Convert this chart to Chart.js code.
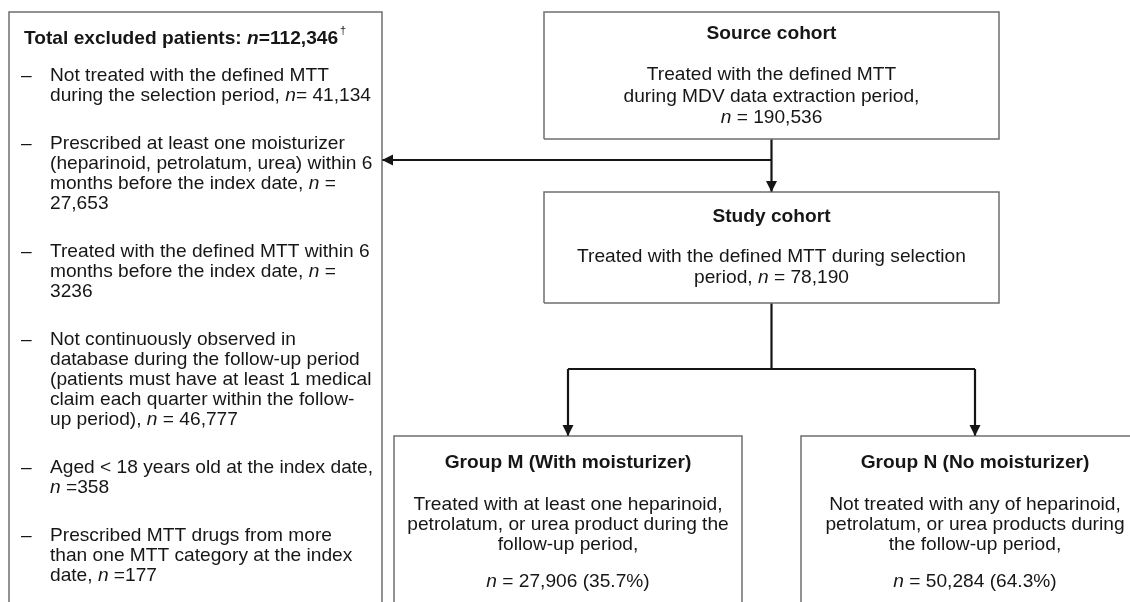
<!DOCTYPE html>
<html>
<head>
<meta charset="utf-8">
<script src="https://cdn.jsdelivr.net/npm/chart.js@4.4.1/dist/chart.umd.min.js"></script>
<style>
  html, body { margin: 0; padding: 0; background: #fff; }
  #wrap { width: 1130px; height: 602px; position: relative; }
</style>
</head>
<body>
<div id="wrap"><canvas id="flow"></canvas></div>
<script>
// ---- values ----
var totalExcluded = 112346;
var exclusionCounts = [41134, 27653, 3236, 46777, 358, 177];
var exclusionText = [
    ["Not treated with the defined MTT", "during the selection period, *n*= {n}"],
    ["Prescribed at least one moisturizer", "(heparinoid, petrolatum, urea) within 6", "months before the index date, *n* =", "{n}"],
    ["Treated with the defined MTT within 6", "months before the index date, *n* =", "{n}"],
    ["Not continuously observed in", "database during the follow-up period", "(patients must have at least 1 medical", "claim each quarter within the follow-", "up period), *n* = {n}"],
    ["Aged < 18 years old at the index date,", "*n* ={n}"],
    ["Prescribed MTT drugs from more", "than one MTT category at the index", "date, *n* ={n}"]
];
var sourceN = 190536;
var studyN = 78190;
var groupNames = ["Group M (With moisturizer)", "Group N (No moisturizer)"];
var groupCounts = [27906, 50284];
var groupShares = [35.7, 64.3];
var groupText = [
    ["Treated with at least one heparinoid,", "petrolatum, or urea product during the", "follow-up period,"],
    ["Not treated with any of heparinoid,", "petrolatum, or urea products during", "the follow-up period,"]
];

// ---- layout (chart units, same as pixels: x 0..1130, y 0..602 top-down) ----
var boxes = {
    excluded: { x0: 9, x1: 382, y0: 12, y1: 650 },
    source: { x0: 544, x1: 999, y0: 12, y1: 139 },
    study: { x0: 544, x1: 999, y0: 192, y1: 303 },
    groupM: { x0: 394, x1: 742, y0: 436, y1: 650 },
    groupN: { x0: 801, x1: 1149, y0: 436, y1: 650 }
};
var branchY = 160;
var splitY = 369;

var FS = 18.5;
var SX = 1.035;
var FAMILY = '"Liberation Sans", Arial, Helvetica, sans-serif';
var TEXT_COLOR = '#161616';

function fmt(n) {
    return n >= 10000 ? String(n).replace(/\B(?=(\d{3})+(?!\d))/g, ',') : String(n);
}
function mid(b) { return (b.x0 + b.x1) / 2; }
function rect(b) {
    return [{x: b.x0, y: b.y1}, {x: b.x0, y: b.y0}, {x: b.x1, y: b.y0}, {x: b.x1, y: b.y1}, {x: b.x0, y: b.y1}];
}

// text blocks: {x, y, align, bold, text, dash, dagger}
var texts = [];
texts.push({ x: 24, y: 44, align: 'left', bold: true, text: 'Total excluded patients: *n*=' + fmt(totalExcluded), dagger: true });
var yy = 81;
exclusionText.forEach(function (lines, i) {
    lines.forEach(function (ln, j) {
        texts.push({ x: 50, y: yy, align: 'left', text: ln.replace('{n}', fmt(exclusionCounts[i])), dash: j === 0 });
        if (j < lines.length - 1) yy += 20;
    });
    yy += 48;
});

// sp: [title offset from box top, title->first line, line pitch, last line->n line]
function cohortBlock(b, sp, title, lines, nLine) {
    var cx = mid(b);
    var y = b.y0 + sp[0];
    texts.push({ x: cx, y: y, align: 'center', bold: true, text: title });
    y += sp[1];
    lines.forEach(function (ln, k) {
        texts.push({ x: cx, y: y, align: 'center', text: ln });
        if (k < lines.length - 1) y += sp[2];
    });
    if (nLine) texts.push({ x: cx, y: y + sp[3], align: 'center', text: nLine });
}
cohortBlock(boxes.source, [26.5, 41.5, 21.5], 'Source cohort', ['Treated with the defined MTT', 'during MDV data extraction period,', '*n* = ' + fmt(sourceN)]);
cohortBlock(boxes.study, [30, 40, 21], 'Study cohort', ['Treated with the defined MTT during selection', 'period, *n* = ' + fmt(studyN)]);
[boxes.groupM, boxes.groupN].forEach(function (b, i) {
    cohortBlock(b, [32, 42, 20, 37], groupNames[i], groupText[i], '*n* = ' + fmt(groupCounts[i]) + ' (' + groupShares[i].toFixed(1) + '%)');
});

// ---- datasets ----
var boxStyle = { borderColor: '#6f6f6f', borderWidth: 1.5 };
var lineStyle = { borderColor: '#151515', borderWidth: 2.2 };
function ds(points, style, arrow) {
    return {
        data: points, showLine: true, pointRadius: 0, fill: false, tension: 0,
        borderColor: style.borderColor, borderWidth: style.borderWidth, arrow: !!arrow
    };
}
var sx = mid(boxes.source);
var datasets = [
    ds(rect(boxes.excluded), boxStyle),
    ds(rect(boxes.source), boxStyle),
    ds(rect(boxes.study), boxStyle),
    ds(rect(boxes.groupM), boxStyle),
    ds(rect(boxes.groupN), boxStyle),
    ds([{x: sx, y: boxes.source.y1}, {x: sx, y: boxes.study.y0}], lineStyle, true),
    ds([{x: sx, y: branchY}, {x: boxes.excluded.x1, y: branchY}], lineStyle, true),
    ds([{x: sx, y: boxes.study.y1}, {x: sx, y: splitY}], lineStyle),
    ds([{x: mid(boxes.groupM), y: splitY}, {x: mid(boxes.groupN), y: splitY}], lineStyle),
    ds([{x: mid(boxes.groupM), y: splitY}, {x: mid(boxes.groupM), y: boxes.groupM.y0}], lineStyle, true),
    ds([{x: mid(boxes.groupN), y: splitY}, {x: mid(boxes.groupN), y: boxes.groupN.y0}], lineStyle, true)
];

function fontFor(bold, italic, size) {
    return (italic ? 'italic ' : '') + (bold ? 'bold ' : '') + size + 'px ' + FAMILY;
}

function drawRich(ctx, str, px, py, align, bold) {
    var segs = str.split('*');
    var widths = [];
    var total = 0;
    for (var i = 0; i < segs.length; i++) {
        ctx.font = fontFor(bold, i % 2 === 1, FS);
        var w = ctx.measureText(segs[i]).width;
        widths.push(w);
        total += w;
    }
    ctx.save();
    ctx.translate(px, py);
    ctx.scale(SX, 1);
    var cx = align === 'center' ? -total / 2 : 0;
    for (var k = 0; k < segs.length; k++) {
        ctx.font = fontFor(bold, k % 2 === 1, FS);
        ctx.fillText(segs[k], cx, 0);
        cx += widths[k];
    }
    ctx.restore();
    return (align === 'center' ? px + total * SX / 2 : px + total * SX);
}

var flowPlugin = {
    id: 'flowText',
    afterDatasetsDraw: function (chart) {
        var ctx = chart.ctx;
        var xs = chart.scales.x, ys = chart.scales.y;
        // arrowheads
        chart.data.datasets.forEach(function (d, i) {
            if (!d.arrow) return;
            var pts = chart.getDatasetMeta(i).data;
            var tip = pts[pts.length - 1], prev = pts[pts.length - 2];
            var dx = tip.x - prev.x, dy = tip.y - prev.y;
            var len = Math.sqrt(dx * dx + dy * dy);
            dx /= len; dy /= len;
            var L = 11, H = 5.5;
            var bx = tip.x - dx * L, by = tip.y - dy * L;
            ctx.save();
            ctx.fillStyle = d.borderColor;
            ctx.beginPath();
            ctx.moveTo(tip.x, tip.y);
            ctx.lineTo(bx - dy * H, by + dx * H);
            ctx.lineTo(bx + dy * H, by - dx * H);
            ctx.closePath();
            ctx.fill();
            ctx.restore();
        });
        // text
        ctx.save();
        ctx.fillStyle = TEXT_COLOR;
        ctx.textAlign = 'left';
        ctx.textBaseline = 'alphabetic';
        texts.forEach(function (t) {
            var px = xs.getPixelForValue(t.x), py = ys.getPixelForValue(t.y);
            if (t.dash) {
                ctx.save();
                ctx.translate(xs.getPixelForValue(21), py);
                ctx.scale(SX, 1);
                ctx.font = fontFor(false, false, FS);
                ctx.fillText('\u2013', 0, 0);
                ctx.restore();
            }
            var end = drawRich(ctx, t.text, px, py, t.align, t.bold);
            if (t.dagger) {
                ctx.font = fontFor(false, false, 11);
                ctx.fillText('\u2020', end + 2, py - 10);
            }
        });
        ctx.restore();
    }
};

new Chart(document.getElementById('flow').getContext('2d'), {
    type: 'scatter',
    data: { datasets: datasets },
    options: {
        responsive: true,
        maintainAspectRatio: false,
        animation: false,
        events: [],
        layout: { padding: 0 },
        plugins: {
            legend: { display: false },
            tooltip: { enabled: false }
        },
        scales: {
            x: { type: 'linear', min: 0, max: 1130, display: false },
            y: { type: 'linear', min: 0, max: 602, reverse: true, display: false }
        }
    },
    plugins: [flowPlugin]
});
</script>
</body>
</html>
